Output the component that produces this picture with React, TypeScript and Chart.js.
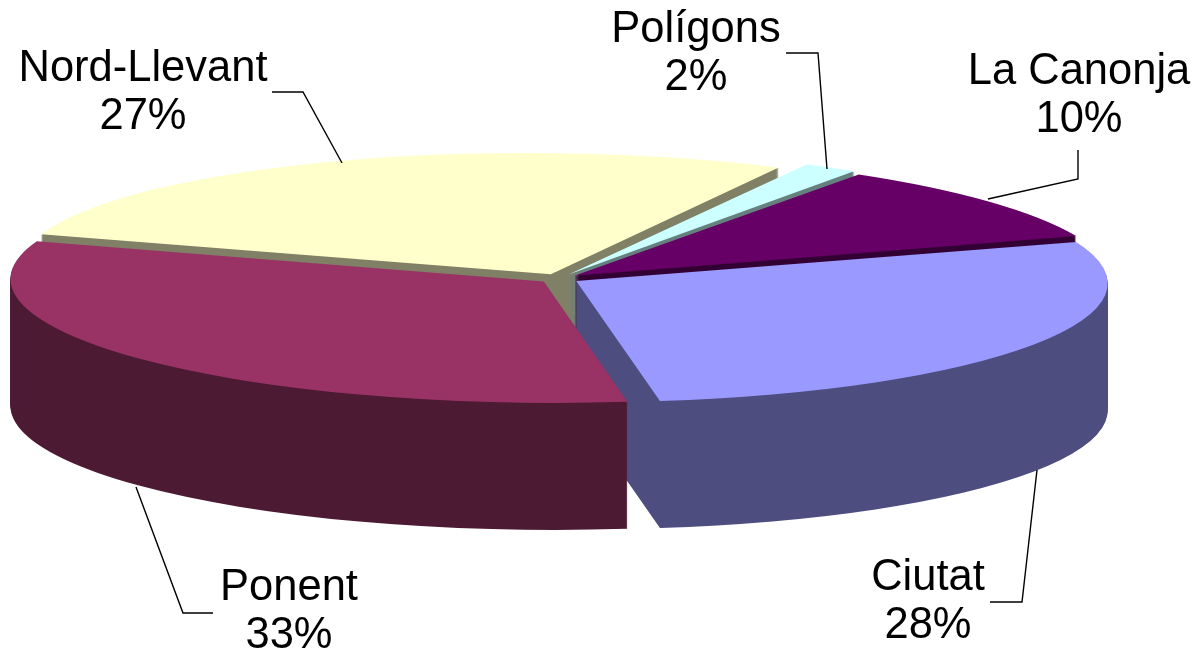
import React, { useEffect, useRef } from "react";
import { Chart, registerables } from "chart.js";

Chart.register(...registerables);

// Data, in the order the slices are painted (back to front)
const categories = ["Nord-Llevant", "Polígons", "La Canonja", "Ciutat", "Ponent"];
const shares = [27.45, 1.75, 10.25, 28, 32.55];
const topColors = ["#FFFFCC", "#CCFFFF", "#660066", "#9999FF", "#993366"];
const wallColors = ["#808066", "#668080", "#330033", "#4D4D80", "#4D1A33"];

// Layout of the drawing
const WIDTH = 1195;
const HEIGHT = 653;
const SQUASH = 0.228;
const DEPTH = 127;
const RADIUS = 531;
const EXPLODE = 80;
const ROTATION = 289.3;
const LEAN = [0.21, 0.21, 0.21, 0.09, 0.09]; // stands in for the perspective of the original
const FONT = '43.5px "Liberation Sans", Arial, sans-serif';
const LINE_GAP = 48;
const labelSpots = [
  { x: 143, y: 69, leader: [[272, 92], [303, 92], [342, 163]] },
  { x: 696, y: 30, leader: [[786, 53], [818, 53], [827, 169]] },
  { x: 1079, y: 72, leader: [[1078, 150], [1078, 179], [988, 199]] },
  { x: 928, y: 578, leader: [[990, 602], [1022, 602], [1037, 470]] },
  { x: 289, y: 588, leader: [[213, 613], [183, 613], [136, 487]] },
];

const extrudedPie = {
  id: "extrudedPie",
  beforeDatasetsDraw(chart: any) {
    const { ctx } = chart;
    const arcs = chart.getDatasetMeta(0).data;
    const layer = document.createElement("canvas");
    layer.width = WIDTH;
    layer.height = HEIGHT;
    const wallCtx = layer.getContext("2d")!;
    arcs.forEach((arc: any, i: number) => {
      const place = (c: CanvasRenderingContext2D, dy: number) => {
        c.save();
        c.translate(arc.x, arc.y + dy);
        c.transform(1, 0, LEAN[i], 1, 0, 0);
        c.scale(1, SQUASH);
        c.translate(-arc.x, -arc.y);
      };
      // The wall: the slice repeated downwards on its own layer, then flattened to one colour
      wallCtx.globalCompositeOperation = "source-over";
      wallCtx.clearRect(0, 0, WIDTH, HEIGHT);
      for (let dy = DEPTH; dy >= 1; dy -= 1) {
        place(wallCtx, dy);
        arc.draw(wallCtx);
        wallCtx.restore();
      }
      wallCtx.globalCompositeOperation = "source-in";
      wallCtx.fillStyle = wallColors[i];
      wallCtx.fillRect(0, 0, WIDTH, HEIGHT);
      ctx.drawImage(layer, 0, 0);
      // The top face
      place(ctx, 0);
      arc.draw(ctx);
      ctx.restore();
    });
    return false;
  },
  afterDraw(chart: any) {
    const { ctx } = chart;
    const total = shares.reduce((a, b) => a + b, 0);
    ctx.save();
    ctx.fillStyle = "#000000";
    ctx.strokeStyle = "#000000";
    ctx.lineWidth = 1.4;
    ctx.font = FONT;
    ctx.textAlign = "center";
    ctx.textBaseline = "middle";
    categories.forEach((name, i) => {
      const spot = labelSpots[i];
      ctx.fillText(name, spot.x, spot.y);
      ctx.fillText(`${Math.round((shares[i] / total) * 100)}%`, spot.x, spot.y + LINE_GAP);
      ctx.beginPath();
      spot.leader.forEach(([x, y], k) => (k ? ctx.lineTo(x, y) : ctx.moveTo(x, y)));
      ctx.stroke();
    });
    ctx.restore();
  },
};

export default function App() {
  const ref = useRef<HTMLCanvasElement>(null);
  useEffect(() => {
    const chart = new Chart(ref.current!, {
      type: "pie",
      data: {
        labels: categories,
        datasets: [
          {
            data: shares,
            backgroundColor: topColors,
            borderWidth: 0,
            offset: EXPLODE,
          },
        ],
      },
      options: {
        animation: false,
        responsive: false,
        events: [],
        rotation: ROTATION,
        radius: RADIUS,
        layout: { padding: { left: 0, top: 0, right: 77, bottom: 96 } },
        plugins: { legend: { display: false }, tooltip: { enabled: false } },
      } as any,
      plugins: [extrudedPie],
    });
    return () => chart.destroy();
  }, []);
  return (
    <div style={{ position: "fixed", left: 0, top: 0, width: WIDTH, height: HEIGHT, background: "#fff" }}>
      <canvas ref={ref} width={WIDTH} height={HEIGHT} style={{ display: "block" }} />
    </div>
  );
}
